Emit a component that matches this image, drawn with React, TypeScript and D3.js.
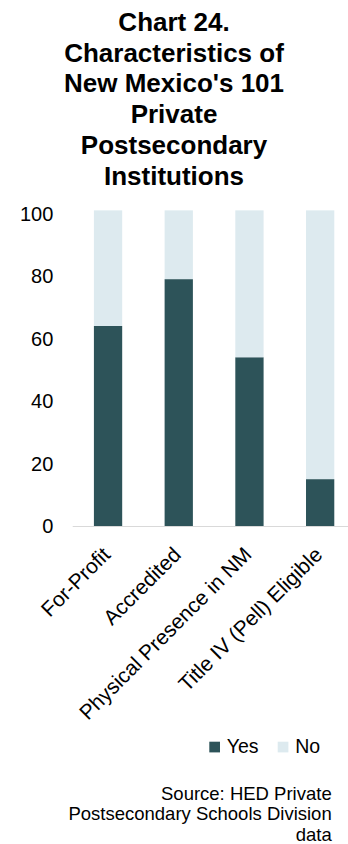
import React from "react";
import * as d3 from "d3";

// Institution counts (of 101) by characteristic
const categories = [
  "For-Profit",
  "Accredited",
  "Physical Presence in NM",
  "Title IV (Pell) Eligible",
];
const yesValues = [64, 79, 54, 15];
const noValues = [37, 22, 47, 86];
const yTicks = [0, 20, 40, 60, 80, 100];
const seriesNames = ["Yes", "No"];
const titleLines = [
  "Chart 24.",
  "Characteristics of",
  "New Mexico's 101",
  "Private",
  "Postsecondary",
  "Institutions",
];
const sourceLines = [
  "Source: HED Private",
  "Postsecondary Schools Division",
  "data",
];

const W = 348;
const H = 844;
const FONT = "'Liberation Sans', Arial, Helvetica, sans-serif";
const COLORS = ["#2d5359", "#ddeaef"];

export default function App() {
  const x = d3
    .scaleBand<string>()
    .domain(categories)
    .range([72.7, 355.5])
    .paddingInner(0.6)
    .paddingOuter(0.3);
  const y = d3.scaleLinear().domain([0, 100]).range([526, 213.5]);

  const rows = categories.map((c, i) => ({ cat: c, Yes: yesValues[i], No: noValues[i] }));
  const stacked = d3.stack<any>().keys(seriesNames)(rows);

  const legendX = [209.3, 277.7];

  return (
    <svg
      width={W}
      height={H}
      style={{ position: "absolute", left: 0, top: 0, background: "#fff" }}
      fontFamily={FONT}
    >
      {/* title */}
      <g fontWeight="bold" fontSize={26} textAnchor="middle" fill="#000">
        {titleLines.map((t, i) => (
          <text key={t} x={174} y={31 + i * 30.7}>
            {t}
          </text>
        ))}
      </g>

      {/* y tick labels */}
      <g fontSize={20} textAnchor="end" fill="#000">
        {yTicks.map((t) => (
          <text key={t} x={53.3} y={y(t)} dy="0.35em">
            {t}
          </text>
        ))}
      </g>

      {/* stacked bars */}
      {stacked.map((s, si) => (
        <g key={s.key} fill={COLORS[si]}>
          {s.map((d: any) => (
            <rect
              key={d.data.cat}
              x={x(d.data.cat)}
              width={x.bandwidth()}
              y={y(d[1])}
              height={y(d[0]) - y(d[1])}
            />
          ))}
        </g>
      ))}

      {/* category axis line */}
      <line x1={72.7} x2={W} y1={526.5} y2={526.5} stroke="#d9d9d9" strokeWidth={1.2} />

      {/* category labels */}
      <g fontSize={21} textAnchor="end" fill="#000">
        {categories.map((c) => (
          <text
            key={c}
            transform={`translate(${(x(c) as number) + x.bandwidth() / 2 + 3.5},556) rotate(-45)`}
          >
            {c}
          </text>
        ))}
      </g>

      {/* legend */}
      <g fontSize={19.5} fill="#000">
        {seriesNames.map((n, i) => (
          <g key={n}>
            <rect x={legendX[i]} y={741.7} width={10.7} height={10.7} fill={COLORS[i]} />
            <text x={legendX[i] + 17.5} y={753.3}>
              {n}
            </text>
          </g>
        ))}
      </g>

      {/* source note */}
      <g fontSize={18.5} textAnchor="end" fill="#000">
        {sourceLines.map((t, i) => (
          <text key={t} x={331.7} y={799.5 + i * 20.7}>
            {t}
          </text>
        ))}
      </g>
    </svg>
  );
}
